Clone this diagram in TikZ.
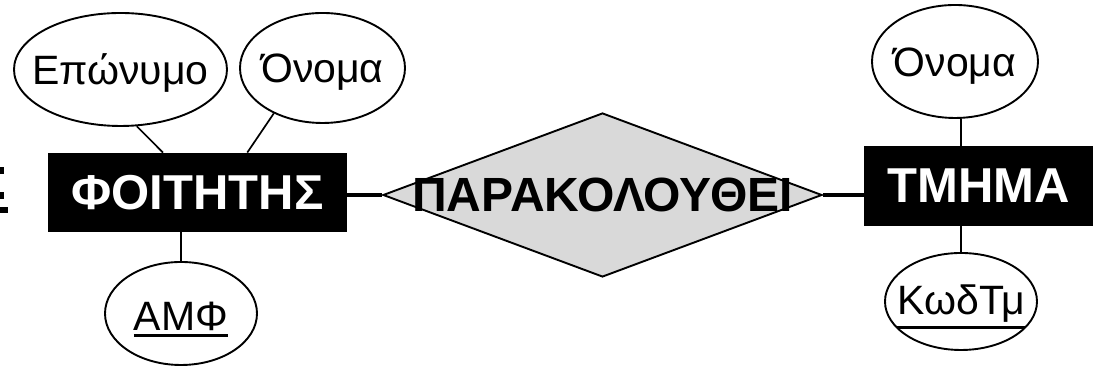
\documentclass[tikz,border=0pt]{standalone}
\usepackage{fontspec}
\setmainfont{Liberation Sans}
\usetikzlibrary{shapes.geometric,calc}
\definecolor{RelGray}{RGB}{217,217,217}
\newcommand{\keyattr}[1]{\vtop{\hbox{#1}\kern1.5pt\hrule height 1.4pt}}

\begin{document}
\begin{tikzpicture}[x=0.5pt,y=0.5pt,
    entitybox/.style={fill=black,text=white,inner sep=0pt,font=\fontsize{24.5}{28}\selectfont\bfseries},
    attrnode/.style={draw,ellipse,line width=0.95pt,inner sep=0pt,text height=18pt,text depth=3pt,font=\fontsize{20.5}{24}\selectfont},
    relnode/.style={draw,diamond,fill=RelGray,line width=0.95pt,inner sep=0pt,font=\fontsize{24}{28}\selectfont\bfseries},
    attrline/.style={line width=0.85pt},
    relline/.style={line width=2.4pt}]
  \useasboundingbox (0,0) rectangle (1093,367);
  \fill (0,193) rectangle (3.5,200);
  \fill (0,168) rectangle (3.5,175);
  \fill (0,154) rectangle (8,160);
  \node[entitybox,minimum width=149.5pt,minimum height=39.5pt] (stud) at (197.5,174.5) {ΦΟΙΤΗΤΗΣ};
  \node[entitybox,minimum width=114.5pt,minimum height=40pt] (dept) at (978.5,181) {ΤΜΗΜΑ};
  \node[relnode,minimum width=219.5pt,minimum height=82pt] (attends) at (602.5,172) {\makebox[0pt]{ΠΑΡΑΚΟΛΟΥΘΕΙ}};
  \node[attrnode,minimum width=106.5pt,minimum height=56.5pt] (surname) at (120.5,297.5) {\makebox[0pt]{Επώνυμο}};
  \node[attrnode,minimum width=82.5pt,minimum height=55pt] (fname) at (322.5,299) {\makebox[0pt]{Όνομα}};
  \node[attrnode,minimum width=76pt,minimum height=51.5pt,text height=20pt] (amf) at (181,53.5) {\makebox[0pt]{\keyattr{ΑΜΦ}}};
  \node[attrnode,minimum width=83pt,minimum height=56.5pt] (dname) at (955,305.5) {\makebox[0pt]{Όνομα}};
  \node[attrnode,minimum width=76pt,minimum height=48.5pt,text height=16.5pt] (code) at (961,65.5) {\makebox[0pt]{\keyattr{ΚωδΤμ}}};
  \draw[attrline] (surname.-74) -- ($(stud.north west)!0.385!(stud.north east)$);
  \draw[attrline] (fname.-137) -- ($(stud.north west)!0.666!(stud.north east)$);
  \draw[attrline] (stud.south -| amf.north) -- (amf.north);
  \draw[attrline] (dept.north -| code.north) -- (dname.south -| code.north);
  \draw[attrline] (dept.south -| code.north) -- (code.north);
  \draw[relline] (attends.west -| stud.east) -- (attends.west);
  \draw[relline] (attends.east) -- (attends.east -| dept.west);
\end{tikzpicture}
\end{document}
